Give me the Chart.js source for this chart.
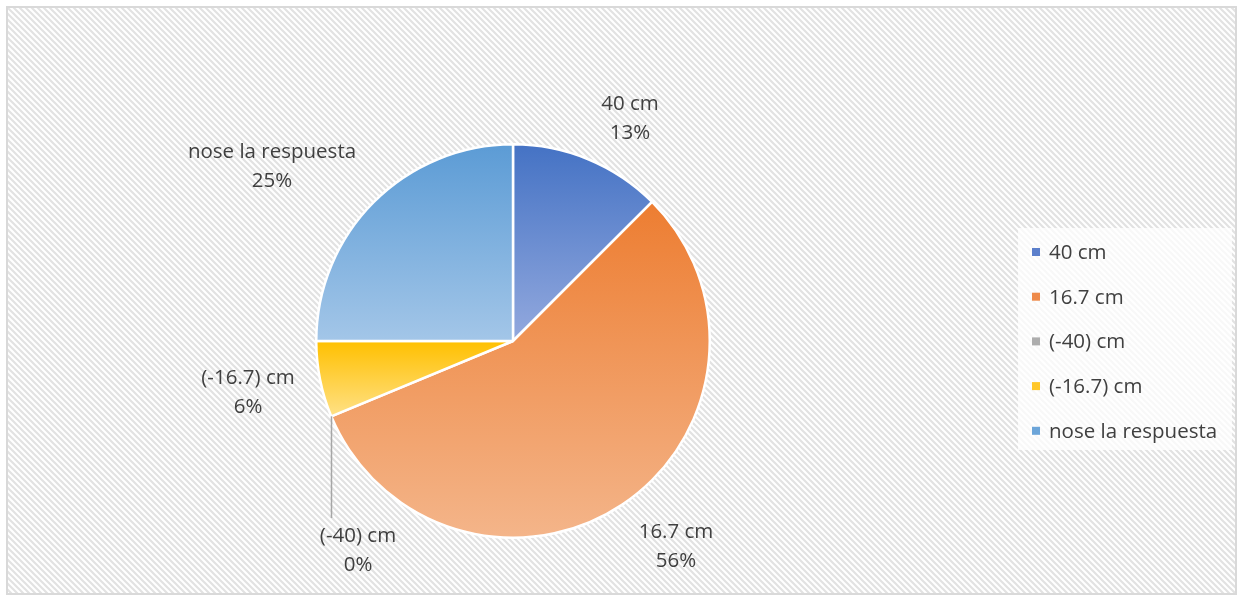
<!DOCTYPE html>
<html>
<head>
<meta charset="utf-8">
<script src="https://cdn.jsdelivr.net/npm/chart.js@4"></script>
<style>
html,body{margin:0;padding:0;background:#fff;}
#wrap{width:1241px;height:598px;position:relative;}
</style>
</head>
<body>
<div id="wrap"><canvas id="c" width="1241" height="598"></canvas></div>
<script>
const categories = ['40 cm', '16.7 cm', '(-40) cm', '(-16.7) cm', 'nose la respuesta'];
const counts = [2, 9, 0, 1, 4];
const percentLabels = ['13%', '56%', '0%', '6%', '25%'];
const topColors = ['#4472C4', '#ED7D31', '#A5A5A5', '#FFC000', '#5B9BD5'];
const bottomColors = ['#93A9DE', '#F4B58A', '#C9C9C9', '#FFE187', '#A3C6E8'];
const legendColors = ['#5B7FCB', '#EE8A4A', '#ADADAD', '#FFC72A', '#6CA5D9'];

const FONT = '20.5px "Open Sans", Lato, sans-serif';
const TEXT = '#404040';

// label anchor positions (centre of two-line label)
const labelPos = [[630, 118], [676, 546], [358, 550], [248, 392], [272, 166]];

function sliceGradient(ctx) {
  const chart = ctx.chart;
  const ca = chart.chartArea;
  if (!ca) return topColors[ctx.dataIndex];
  const i = ctx.dataIndex;
  const total = counts.reduce((a, b) => a + b, 0);
  let before = 0;
  for (let k = 0; k < i; k++) before += counts[k];
  const a0 = -Math.PI / 2 + before / total * 2 * Math.PI;
  const a1 = a0 + counts[i] / total * 2 * Math.PI;
  const cx = (ca.left + ca.right) / 2, cy = (ca.top + ca.bottom) / 2;
  const r = Math.min(ca.right - ca.left, ca.bottom - ca.top) / 2;
  let ys = [cy, cy + r * Math.sin(a0), cy + r * Math.sin(a1)];
  for (const t of [-Math.PI / 2, Math.PI / 2, 3 * Math.PI / 2]) {
    if (t >= a0 && t <= a1) ys.push(cy + r * Math.sin(t));
  }
  const y0 = Math.min(...ys), y1 = Math.max(...ys);
  const g = chart.ctx.createLinearGradient(0, y0, 0, Math.max(y1, y0 + 1));
  g.addColorStop(0, topColors[i]);
  g.addColorStop(1, bottomColors[i]);
  return g;
}

function makeHatch(c) {
  const p = document.createElement('canvas');
  p.width = 6; p.height = 6;
  const x = p.getContext('2d');
  x.fillStyle = '#ffffff';
  x.fillRect(0, 0, 6, 6);
  x.strokeStyle = '#e2e2e2';
  x.lineWidth = 2.2;
  x.beginPath();
  x.moveTo(-3, -3); x.lineTo(9, 9);
  x.moveTo(-3, 3); x.lineTo(3, 9);
  x.moveTo(3, -3); x.lineTo(9, 3);
  x.stroke();
  return c.createPattern(p, 'repeat');
}

const bgPlugin = {
  id: 'bg',
  beforeDraw(chart) {
    const c = chart.ctx;
    c.save();
    c.fillStyle = '#ffffff';
    c.fillRect(0, 0, chart.width, chart.height);
    c.fillStyle = makeHatch(c);
    c.fillRect(8, 8, 1228, 586);
    c.strokeStyle = '#d9d9d9';
    c.lineWidth = 2;
    c.strokeRect(7, 7, 1229, 587);
    c.restore();
  }
};

const labelPlugin = {
  id: 'labels',
  afterDraw(chart) {
    const c = chart.ctx;
    const meta = chart.getDatasetMeta(0);
    c.save();
    // leader line for zero slice
    const arc = meta.data[2];
    if (arc) {
      const a = arc.startAngle;
      const px = arc.x + arc.outerRadius * Math.cos(a);
      const py = arc.y + arc.outerRadius * Math.sin(a);
      c.strokeStyle = '#a6a6a6';
      c.lineWidth = 1.5;
      c.beginPath();
      c.moveTo(Math.round(px) + 0.5, py);
      c.lineTo(Math.round(px) + 0.5, 518);
      c.stroke();
    }
    c.font = FONT;
    c.fillStyle = TEXT;
    c.textAlign = 'center';
    c.textBaseline = 'middle';
    categories.forEach((cat, i) => {
      const [x, y] = labelPos[i];
      c.fillText(cat, x, y - 14);
      c.fillText(percentLabels[i], x, y + 15);
    });
    // legend
    c.fillStyle = 'rgba(255,255,255,0.75)';
    c.fillRect(1018, 228, 214, 222);
    c.font = FONT;
    c.textAlign = 'left';
    categories.forEach((cat, i) => {
      const y = 252 + i * 44.7;
      c.fillStyle = legendColors[i];
      c.fillRect(1032, y - 4, 8, 8);
      c.fillStyle = TEXT;
      c.fillText(cat, 1049, y + 1);
    });
    c.restore();
  }
};

new Chart(document.getElementById('c'), {
  type: 'pie',
  data: {
    labels: categories,
    datasets: [{
      data: counts,
      backgroundColor: sliceGradient,
      borderColor: '#ffffff',
      borderWidth: 2.5
    }]
  },
  options: {
    responsive: false,
    animation: false,
    layout: { padding: { left: 315, right: 530, top: 143, bottom: 59 } },
    plugins: { legend: { display: false }, tooltip: { enabled: false } }
  },
  plugins: [bgPlugin, labelPlugin]
});
</script>
</body>
</html>
